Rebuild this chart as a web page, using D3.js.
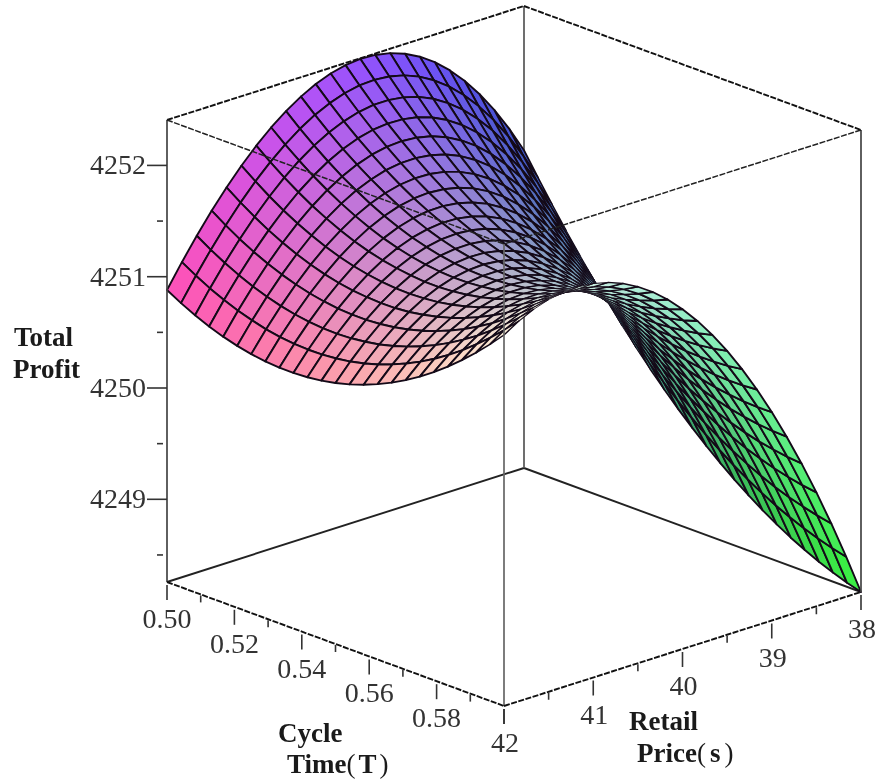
<!DOCTYPE html>
<html>
<head>
<meta charset="utf-8">
<title>Total Profit surface</title>
<script src="https://cdn.jsdelivr.net/npm/d3@7"></script>
<style>
    html, body { margin: 0; padding: 0; background: #fff; }
    svg { display: block; filter: blur(0.45px); }
    text { font-family: "Liberation Serif", serif; }
</style>
</head>
<body>
<div id="chart"></div>
<script>
// tick values and labels
const cycleTicks = [0.50, 0.52, 0.54, 0.56, 0.58, 0.60];
const cycleMinor = [0.51, 0.53, 0.55, 0.57, 0.59];
const cycleLabels = ["0.50", "0.52", "0.54", "0.56", "0.58", ""];
const priceTicks = [42, 41, 40, 39, 38];
const priceMinor = [41.5, 40.5, 39.5, 38.5];
const profitTicks = [4252, 4251, 4250, 4249];
const profitMinor = [4251.5, 4250.5, 4249.5, 4248.5];

// grid the surface was sampled on
const cycleGrid = d3.range(25).map(i => 0.5 + i * 0.1 / 24);
const priceGrid = d3.range(25).map(j => 42 - j * 4 / 24);

// profit: one row per cycle time, one column per price
const profit = [
[4250.880,4251.088,4251.283,4251.465,4251.631,4251.784,4251.921,4252.042,4252.146,4252.234,4252.304,4252.356,4252.389,4252.402,4252.395,4252.369,4252.320,4252.251,4252.160,4252.045,4251.907,4251.746,4251.560,4251.349,4251.112],
[4250.809,4251.013,4251.202,4251.379,4251.541,4251.689,4251.820,4251.935,4252.034,4252.116,4252.179,4252.225,4252.253,4252.260,4252.248,4252.215,4252.161,4252.086,4251.988,4251.868,4251.726,4251.559,4251.369,4251.153,4250.912],
[4250.746,4250.945,4251.131,4251.302,4251.459,4251.600,4251.727,4251.836,4251.929,4252.005,4252.062,4252.103,4252.124,4252.125,4252.107,4252.068,4252.009,4251.927,4251.825,4251.700,4251.552,4251.380,4251.183,4250.963,4250.718],
[4250.692,4250.887,4251.068,4251.234,4251.385,4251.521,4251.642,4251.745,4251.833,4251.902,4251.955,4251.988,4252.003,4251.998,4251.974,4251.929,4251.864,4251.777,4251.668,4251.537,4251.384,4251.207,4251.005,4250.781,4250.531],
[4250.647,4250.837,4251.012,4251.174,4251.320,4251.451,4251.565,4251.664,4251.744,4251.809,4251.855,4251.882,4251.891,4251.880,4251.850,4251.799,4251.727,4251.635,4251.521,4251.384,4251.225,4251.043,4250.837,4250.607,4250.352],
[4250.611,4250.797,4250.967,4251.123,4251.263,4251.389,4251.498,4251.590,4251.665,4251.722,4251.763,4251.784,4251.786,4251.769,4251.733,4251.676,4251.598,4251.500,4251.380,4251.237,4251.072,4250.885,4250.674,4250.439,4250.180],
[4250.583,4250.763,4250.929,4251.080,4251.216,4251.335,4251.437,4251.524,4251.593,4251.644,4251.678,4251.693,4251.689,4251.666,4251.623,4251.560,4251.476,4251.371,4251.245,4251.097,4250.926,4250.734,4250.517,4250.277,4250.014],
[4250.564,4250.740,4250.900,4251.046,4251.175,4251.289,4251.386,4251.467,4251.529,4251.575,4251.601,4251.610,4251.599,4251.570,4251.521,4251.452,4251.362,4251.250,4251.119,4250.965,4250.789,4250.590,4250.368,4250.124,4249.855],
[4250.554,4250.725,4250.880,4251.021,4251.144,4251.252,4251.343,4251.417,4251.474,4251.513,4251.534,4251.536,4251.519,4251.483,4251.428,4251.351,4251.255,4251.139,4251.000,4250.840,4250.659,4250.454,4250.228,4249.977,4249.704],
[4250.553,4250.719,4250.869,4251.003,4251.122,4251.224,4251.309,4251.377,4251.427,4251.459,4251.474,4251.470,4251.447,4251.404,4251.342,4251.259,4251.157,4251.034,4250.890,4250.724,4250.536,4250.326,4250.094,4249.839,4249.560],
[4250.561,4250.722,4250.866,4250.996,4251.109,4251.205,4251.284,4251.345,4251.389,4251.415,4251.423,4251.412,4251.383,4251.333,4251.264,4251.176,4251.067,4250.937,4250.786,4250.614,4250.421,4250.205,4249.968,4249.707,4249.424],
[4250.577,4250.733,4250.872,4250.995,4251.103,4251.192,4251.266,4251.321,4251.358,4251.377,4251.379,4251.362,4251.325,4251.269,4251.194,4251.099,4250.984,4250.847,4250.690,4250.513,4250.312,4250.092,4249.848,4249.583,4249.294],
[4250.602,4250.752,4250.887,4251.004,4251.105,4251.189,4251.255,4251.305,4251.336,4251.349,4251.344,4251.319,4251.276,4251.214,4251.132,4251.029,4250.907,4250.765,4250.602,4250.418,4250.213,4249.986,4249.736,4249.465,4249.172],
[4250.636,4250.781,4250.909,4251.021,4251.116,4251.195,4251.254,4251.297,4251.321,4251.329,4251.316,4251.285,4251.235,4251.165,4251.077,4250.969,4250.840,4250.691,4250.522,4250.330,4250.119,4249.886,4249.632,4249.355,4249.056],
[4250.679,4250.819,4250.942,4251.048,4251.137,4251.208,4251.262,4251.298,4251.316,4251.316,4251.297,4251.259,4251.202,4251.126,4251.030,4250.915,4250.780,4250.624,4250.447,4250.251,4250.033,4249.794,4249.534,4249.252,4248.948],
[4250.731,4250.866,4250.983,4251.083,4251.166,4251.231,4251.278,4251.308,4251.319,4251.311,4251.286,4251.241,4251.177,4251.094,4250.992,4250.869,4250.727,4250.565,4250.382,4250.179,4249.955,4249.710,4249.444,4249.157,4248.847],
[4250.791,4250.920,4251.032,4251.126,4251.202,4251.262,4251.302,4251.325,4251.330,4251.315,4251.282,4251.231,4251.160,4251.070,4250.961,4250.832,4250.682,4250.513,4250.324,4250.115,4249.883,4249.633,4249.360,4249.067,4248.753],
[4250.860,4250.984,4251.089,4251.178,4251.247,4251.300,4251.335,4251.351,4251.349,4251.327,4251.287,4251.229,4251.151,4251.053,4250.938,4250.801,4250.645,4250.470,4250.274,4250.057,4249.821,4249.563,4249.284,4248.986,4248.666],
[4250.938,4251.056,4251.156,4251.237,4251.302,4251.348,4251.376,4251.385,4251.375,4251.348,4251.300,4251.235,4251.149,4251.046,4250.922,4250.778,4250.616,4250.433,4250.230,4250.008,4249.764,4249.500,4249.217,4248.912,4248.586],
[4251.025,4251.137,4251.231,4251.307,4251.365,4251.404,4251.425,4251.427,4251.411,4251.376,4251.321,4251.249,4251.157,4251.045,4250.914,4250.763,4250.594,4250.404,4250.194,4249.965,4249.715,4249.445,4249.155,4248.845,4248.513],
[4251.120,4251.226,4251.314,4251.384,4251.435,4251.468,4251.482,4251.477,4251.454,4251.412,4251.351,4251.270,4251.172,4251.052,4250.914,4250.757,4250.580,4250.383,4250.166,4249.930,4249.674,4249.398,4249.101,4248.785,4248.448],
[4251.225,4251.326,4251.407,4251.470,4251.515,4251.542,4251.549,4251.537,4251.507,4251.457,4251.389,4251.301,4251.195,4251.068,4250.923,4250.758,4250.574,4250.370,4250.147,4249.904,4249.640,4249.358,4249.055,4248.733,4248.390],
[4251.338,4251.433,4251.509,4251.566,4251.604,4251.623,4251.623,4251.604,4251.567,4251.510,4251.435,4251.340,4251.225,4251.092,4250.939,4250.766,4250.576,4250.365,4250.133,4249.884,4249.615,4249.325,4249.017,4248.687,4248.339],
[4251.460,4251.549,4251.618,4251.668,4251.701,4251.712,4251.706,4251.680,4251.635,4251.571,4251.488,4251.385,4251.264,4251.122,4250.962,4250.783,4250.584,4250.366,4250.128,4249.872,4249.595,4249.299,4248.984,4248.649,4248.294],
[4251.590,4251.673,4251.736,4251.780,4251.805,4251.811,4251.797,4251.764,4251.712,4251.640,4251.550,4251.440,4251.310,4251.162,4250.994,4250.807,4250.601,4250.375,4250.130,4249.866,4249.583,4249.280,4248.958,4248.617,4248.257]
];

const zMin = 4248.257, zMax = 4252.408;

const width = 879, height = 783;

// box is an orthographic cube: origin is the lower left corner,
// the three vectors are its edges on screen
const origin = [167, 582];
const edgeT = [337, 124];
const edgeS = [357, -114];
const edgeZ = [0, -462];

const uScale = d3.scaleLinear().domain([0.5, 0.6]).range([0, 1]);
const vScale = d3.scaleLinear().domain([42, 38]).range([0, 1]);
const wScale = d3.scaleLinear().domain([zMin, zMax]).range([0, 1]);

// colour channels follow the three axes
const redScale = d3.scaleLinear().domain([42, 38]).range([255, 55]);
const greenScale = d3.scaleLinear().domain([0.5, 0.6]).range([80, 240]);
const blueScale = d3.scaleLinear().domain([zMin, zMax]).range([60, 255]).clamp(true);

// small cells on screen get a thinner outline, else the fold goes solid black
const meshWidth = d3.scaleLinear().domain([8, 110]).range([0.6, 1.9]).clamp(true);

function project(t, s, z) {
    let u = uScale(t), v = vScale(s), w = wScale(z);
    return [
        origin[0] + u * edgeT[0] + v * edgeS[0] + w * edgeZ[0],
        origin[1] + u * edgeT[1] + v * edgeS[1] + w * edgeZ[1]
    ];
}

// nearer to the viewer = bigger
function depth(t, s, z) {
    return 0.684 * uScale(t) - 0.646 * vScale(s) + 0.339 * wScale(z);
}

var svg = d3.select("#chart").append("svg")
    .attr("width", width)
    .attr("height", height);

function boxLine(a, b, dashed, color, w) {
    let p = project(a[0], a[1], a[2]), q = project(b[0], b[1], b[2]);
    svg.append("line")
        .attr("x1", p[0]).attr("y1", p[1])
        .attr("x2", q[0]).attr("y2", q[1])
        .attr("stroke", color)
        .attr("stroke-width", w)
        .attr("stroke-dasharray", dashed ? "6 1.5" : null);
}

const T0 = 0.5, T1 = 0.6, S0 = 42, S1 = 38;

// back of the box, behind the surface
boxLine([T0, S0, zMin], [T0, S1, zMin], false, "#222", 1.9);
boxLine([T0, S1, zMin], [T1, S1, zMin], false, "#222", 1.9);
boxLine([T0, S1, zMin], [T0, S1, zMax], false, "#555", 1.7);
boxLine([T0, S0, zMax], [T0, S1, zMax], true, "#111", 1.9);
boxLine([T0, S1, zMax], [T1, S1, zMax], true, "#111", 1.9);

// surface cells, painted far to near
let cells = [];
for(let i = 0; i < 24; i++) {
    for(let j = 0; j < 24; j++) {
        let corners = [[i, j], [i + 1, j], [i + 1, j + 1], [i, j + 1]]
            .map(c => [cycleGrid[c[0]], priceGrid[c[1]], profit[c[0]][c[1]]]);
        cells.push({
            corners: corners,
            screen: corners.map(c => project(c[0], c[1], c[2])),
            t: d3.mean(corners, c => c[0]),
            s: d3.mean(corners, c => c[1]),
            z: d3.mean(corners, c => c[2])
        });
    }
}
cells.sort((a, b) => depth(a.t, a.s, a.z) - depth(b.t, b.s, b.z));

var cellPath = d3.line().curve(d3.curveLinearClosed);

svg.append("g").selectAll("path")
    .data(cells)
    .enter()
    .append("path")
        .attr("d", d => cellPath(d.screen))
        .attr("fill", d => d3.rgb(redScale(d.s), greenScale(d.t), blueScale(d.z)))
        .attr("stroke", "#140a18")
        .attr("stroke-width", d => meshWidth(Math.abs(d3.polygonArea(d.screen))))
        .attr("stroke-linejoin", "round");

// front of the box, over the surface
boxLine([T0, S0, zMin], [T0, S0, zMax], false, "#444", 1.7);
boxLine([T1, S1, zMin], [T1, S1, zMax], false, "#444", 1.7);
boxLine([T1, S0, zMin], [T1, S0, zMax], false, "#666", 1.7);
boxLine([T0, S0, zMax], [T1, S0, zMax], true, "#222", 1.5);
boxLine([T1, S1, zMax], [T1, S0, zMax], true, "#222", 1.5);
boxLine([T0, S0, zMin], [T1, S0, zMin], true, "#111", 1.9);
boxLine([T1, S0, zMin], [T1, S1, zMin], true, "#111", 1.9);

// ticks
function tick(p, x1, y1, x2, y2) {
    svg.append("line")
        .attr("x1", p[0] + x1).attr("y1", p[1] + y1)
        .attr("x2", p[0] + x2).attr("y2", p[1] + y2)
        .attr("stroke", "#333")
        .attr("stroke-width", 1.6);
}

cycleTicks.forEach(t => tick(project(t, S0, zMin), 0, 3, 0, 18));
cycleMinor.forEach(t => tick(project(t, S0, zMin), 0, 1, 0, 8));
priceTicks.forEach(s => tick(project(T1, s, zMin), 0, 3, 0, 18));
priceMinor.forEach(s => tick(project(T1, s, zMin), 0, 1, 0, 8));
profitTicks.forEach(z => tick(project(T0, S0, z), -20, 0, 0, 0));
profitMinor.forEach(z => tick(project(T0, S0, z), -10, 0, -4, 0));

// tick labels
function label(p, str, anchor) {
    svg.append("text")
        .attr("x", p[0])
        .attr("y", p[1])
        .attr("text-anchor", anchor)
        .attr("font-size", "28px")
        .attr("fill", "#333")
        .text(str);
}

cycleTicks.forEach((t, i) => {
    let p = project(t, S0, zMin);
    label([p[0], p[1] + 46], cycleLabels[i], "middle");
});
priceTicks.forEach(s => {
    let p = project(T1, s, zMin);
    label([p[0] + 1, p[1] + 46], String(s), "middle");
});
profitTicks.forEach(z => {
    let p = project(T0, S0, z);
    label([p[0] - 21, p[1] + 9], String(z), "end");
});

// axis titles
function title(x, y, parts) {
    let t = svg.append("text")
        .attr("x", x)
        .attr("y", y)
        .attr("font-size", "27px")
        .attr("fill", "#1a1a1a");
    parts.forEach(part => {
        t.append("tspan")
            .attr("dx", part.dx || 0)
            .attr("font-weight", part.normal ? "normal" : "bold")
            .text(part.text);
    });
}

title(14, 346, [{text: "Total"}]);
title(13, 378, [{text: "Profit"}]);
title(278, 742, [{text: "Cycle"}]);
title(287, 773, [{text: "Time"}, {text: "(", normal: true}, {text: "T", dx: 3}, {text: ")", normal: true, dx: 3}]);
title(629, 730, [{text: "Retail"}]);
title(637, 762, [{text: "Price"}, {text: "(", normal: true}, {text: "s", dx: 4}, {text: ")", normal: true, dx: 4}]);
</script>
</body>
</html>
